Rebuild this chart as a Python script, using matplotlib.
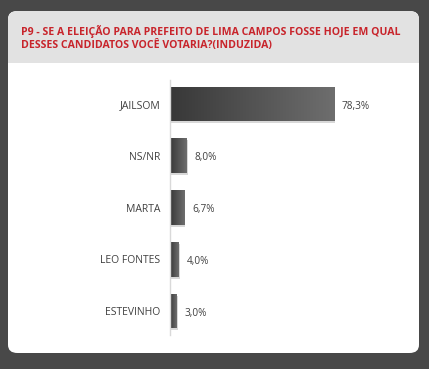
import matplotlib
matplotlib.use("Agg")
import matplotlib.pyplot as plt
import numpy as np
from matplotlib.patches import FancyBboxPatch, Rectangle
from matplotlib.colors import LinearSegmentedColormap

categories = ["JAILSOM", "NS/NR", "MARTA", "LEO FONTES", "ESTEVINHO"]
values = [78.3, 8.0, 6.7, 4.0, 3.0]
value_labels = ["78,3%", "8,0%", "6,7%", "4,0%", "3,0%"]
title_lines = ["P9 - SE A ELEIÇÃO PARA PREFEITO DE LIMA CAMPOS FOSSE HOJE EM QUAL",
               "DESSES CANDIDATOS VOCÊ VOTARIA?(INDUZIDA)"]

W, H = 429, 369
plt.rcParams['font.family'] = ['Open Sans', 'DejaVu Sans']
fig = plt.figure(figsize=(W / 100, H / 100), dpi=100)
fig.patch.set_facecolor("#484848")

def fx(px):
    return px / W

def fy(py):
    return 1 - py / H

cx0, cx1, cy0, cy1, hy = 8, 419, 11, 353, 63
# white card
card = FancyBboxPatch((fx(cx0), fy(cy1)), fx(cx1 - cx0), (cy1 - cy0) / H,
                      boxstyle="round,pad=0,rounding_size=0.022",
                      transform=fig.transFigure, facecolor="white",
                      edgecolor="none", zorder=0)
fig.patches.append(card)
# header
hdr = FancyBboxPatch((fx(cx0), fy(hy)), fx(cx1 - cx0), (hy - cy0) / H,
                     boxstyle="round,pad=0,rounding_size=0.022",
                     transform=fig.transFigure, facecolor="#e2e2e2",
                     edgecolor="none", zorder=1)
fig.patches.append(hdr)
fig.patches.append(Rectangle((fx(cx0), fy(hy)), fx(cx1 - cx0), 12 / H,
                             transform=fig.transFigure, facecolor="#e2e2e2",
                             edgecolor="none", zorder=1))
for k, line in enumerate(title_lines):
    fig.text(fx(21), fy(32 + 13.5 * k), line, ha="left", va="center", fontsize=7.6,
             fontweight="bold", color="#c8242b", zorder=3)

# axes
ax_left, ax_right = 170, 400
ax_top, ax_bot = 80, 335
ax = fig.add_axes([fx(ax_left), fy(ax_bot), fx(ax_right - ax_left), (ax_bot - ax_top) / H])
ax.set_zorder(5)
ax.patch.set_visible(False)
px_per_unit = 164 / 78.3
xmax = (ax_right - ax_left) / px_per_unit
spacing = 51.75
for s in ["top", "right", "bottom"]:
    ax.spines[s].set_visible(False)
ax.spines["left"].set_color("#d9d9d9")
ax.spines["left"].set_linewidth(1.0)
ax.set_xticks([])
ax.set_yticks(range(len(categories)))
ax.set_yticklabels(categories, fontsize=7.5, color="#404040")
ax.tick_params(axis="y", length=0, pad=7)

bh = 0.67
grad = np.linspace(0, 1, 256).reshape(1, -1)
cmap = LinearSegmentedColormap.from_list("g", ["#383838", "#6e6e6e"])
for i, v in enumerate(values):
    sh = Rectangle((0, i - bh / 2 + 0.04), v + 0.6, bh, facecolor="#c8c8c8",
                   edgecolor="none", zorder=1, alpha=0.7)
    ax.add_patch(sh)
    r = Rectangle((0, i - bh / 2), v, bh, facecolor="none", edgecolor="none", zorder=2)
    ax.add_patch(r)
    im = ax.imshow(grad, extent=(0, v, i + bh / 2, i - bh / 2), cmap=cmap,
                   aspect="auto", zorder=2, interpolation="bilinear")
    im.set_clip_path(r)
    ax.text(v + 8 / px_per_unit, i + 0.04, value_labels[i], ha="left", va="center",
            fontsize=7.2, color="#404040")
ax.set_xlim(0, xmax)
ax.set_ylim(4 + 24 / spacing, -24 / spacing)

fig.savefig("out.png", dpi=100, facecolor=fig.get_facecolor())
